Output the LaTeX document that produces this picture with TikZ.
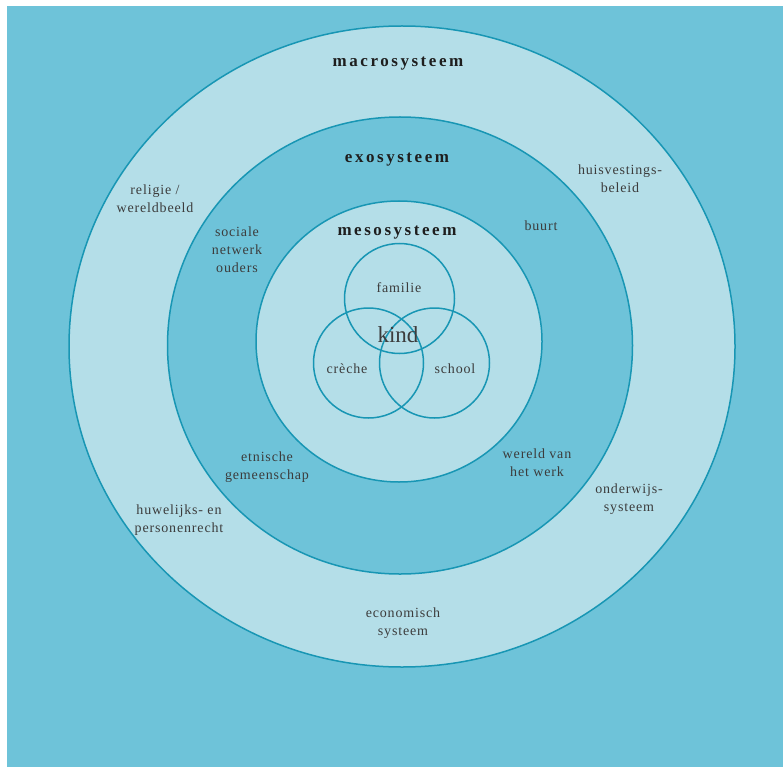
\documentclass[tikz,border=0pt]{standalone}
\usepackage{fontspec}
\setmainfont{Liberation Serif}
\newfontfamily\lblfont[LetterSpace=6]{Liberation Serif}
\newfontfamily\hdrfont[LetterSpace=15]{Liberation Serif}
\definecolor{bgblue}{HTML}{6EC3D9}
\definecolor{ringlight}{HTML}{B4DEE8}
\definecolor{ringline}{HTML}{1896B4}
\definecolor{txtgray}{HTML}{3C3C3C}
\definecolor{hdrgray}{HTML}{1E1E1E}
\tikzset{
  ringshape/.style={draw=ringline, line width=1.5pt},
  venn/.style={draw=ringline, line width=1.5pt},
  lbl/.style={text=txtgray, align=center, inner sep=0pt, font=\lblfont\fontsize{14}{18}\selectfont},
  hdr/.style={text=hdrgray, inner sep=0pt, anchor=base, font=\hdrfont\bfseries\fontsize{17}{20}\selectfont},
  kindlbl/.style={text=txtgray, inner sep=0pt, anchor=base, font=\fontsize{23}{26}\selectfont}
}
\begin{document}
\begin{tikzpicture}[x=1pt,y=-1pt]
\useasboundingbox (0,0) rectangle (783,767);
\fill[white] (0,0) rectangle (783,767);
\fill[bgblue] (7,6) rectangle (783,767);
% rings
\path[ringshape, fill=ringlight] (402,346.5) ellipse [x radius=333, y radius=320.5];
\path[ringshape, fill=bgblue] (400,345.5) ellipse [x radius=232.5, y radius=228.5];
\path[ringshape, fill=ringlight] (399,341.5) ellipse [x radius=143, y radius=140.5];
% venn
\draw[venn] (399.5,298.5) circle [radius=55];
\draw[venn] (368.5,363) circle [radius=55];
\draw[venn] (434.5,363) circle [radius=55];
% headings
\node[hdr] (macro) at (398,67) {macrosysteem};
\node[hdr] (exo) at (397,163) {exosysteem};
\node[hdr] (meso) at (397,235) {mesosysteem};
% venn labels
\node[lbl, anchor=base] (familie) at (399,292) {familie};
\node[kindlbl] (kind) at (398,342) {kind};
\node[lbl, anchor=base] (creche) at (347,373) {crèche};
\node[lbl, anchor=base] (school) at (455,373) {school};
% exo labels
\node[lbl] (sociale) at (237,250) {sociale\\netwerk\\ouders};
\node[lbl, anchor=base] (buurt) at (541,230) {buurt};
\node[lbl] (etnisch) at (267,467) {etnische\\gemeenschap};
\node[lbl] (werk) at (537,463) {wereld van\\het werk};
% macro labels
\node[lbl] (religie) at (155,199) {religie /\\wereldbeeld};
\node[lbl] (huis) at (620,179) {huisvestings-\\beleid};
\node[lbl] (huwelijk) at (179,520) {huwelijks- en\\personenrecht};
\node[lbl] (onderwijs) at (629,499) {onderwijs-\\systeem};
\node[lbl] (econ) at (403,623) {economisch\\systeem};
\end{tikzpicture}
\end{document}
